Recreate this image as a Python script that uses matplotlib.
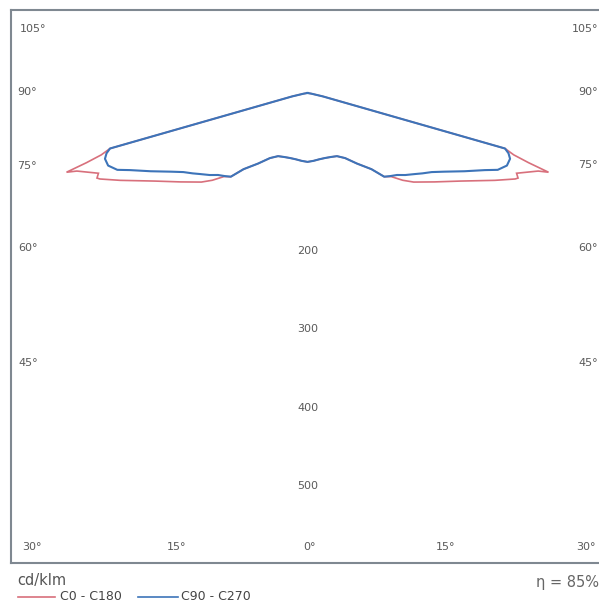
import matplotlib
matplotlib.use("Agg")
import matplotlib.pyplot as plt
import numpy as np
from matplotlib.lines import Line2D

# Photometric data (cd/klm), gamma measured from nadir.
# Distribution is symmetric about nadir, so one half per C-plane pair.
gamma_c0 = [0, 5, 10, 15, 20, 25, 30, 35, 40, 42.5, 45, 47.5, 50, 55, 60, 65,
            67.5, 68, 69, 71.3, 71.8, 72.5, 73.3, 74.3, 77.5, 80, 90]
int_c0 = [88, 87, 86, 86, 87, 89, 96, 110, 127, 145, 151, 165, 177, 198, 225, 264,
          287, 290, 286, 311, 324, 296, 275, 262, 20, 5, 0]

gamma_c90 = [0, 5, 10, 15, 20, 25, 30, 35, 40, 42.5, 45, 47.5, 50, 53, 55, 57.5,
             60, 63.5, 66.5, 68, 70, 72, 73.3, 74.3, 77.5, 80, 90]
int_c90 = [88, 87, 86, 86, 87, 89, 96, 110, 127, 145, 150, 155, 163, 172, 179, 188,
           201, 224, 247, 262, 271, 272, 268, 262, 20, 5, 0]

radial_ticks = [200, 300, 400, 500]
series_labels = ["C0 - C180", "C90 - C270"]
efficiency = "η = 85%"
unit_label = "cd/klm"

RED = "#d8707c"
BLUE = "#3d74b9"
FRAME = "#7f8891"
TXT = "#5a5a5a"

W, H = 599, 606


def polar_xy(gamma, intensity):
    g = np.deg2rad(np.asarray(gamma, float))
    r = np.asarray(intensity, float)
    # left half (C180 / C270) then right half (C0 / C90)
    g_full = np.concatenate([-g[::-1], g[1:]])
    r_full = np.concatenate([r[::-1], r[1:]])
    return r_full * np.sin(g_full), -r_full * np.cos(g_full)


def ftext(px, py, s, **kw):
    # place text using reference-image pixel positions
    fig.text(px / W, 1 - py / H, s, **kw)


fig = plt.figure(figsize=(W / 100, H / 100), dpi=100)
ax = fig.add_axes([11 / W, 43 / H, 587 / W, 553 / H])

x0, y0 = polar_xy(gamma_c0, int_c0)
x90, y90 = polar_xy(gamma_c90, int_c90)
ax.plot(x0, y0, color=RED, lw=1.2, solid_joinstyle="miter")
ax.plot(x90, y90, color=BLUE, lw=1.5)

ax.set_xlim(-378.7, 371)
ax.set_ylim(-600.3, 106)
ax.set_xticks([])
ax.set_yticks([])
for side in ["left", "top", "bottom"]:
    ax.spines[side].set_color(FRAME)
    ax.spines[side].set_linewidth(1.5)
ax.spines["right"].set_visible(False)

for r in radial_ticks:
    ax.text(0, -r - 2, str(r), ha="center", va="center", fontsize=8, color=TXT)

# angle labels around the frame
left_labels = [("105°", 20, 29), ("90°", 17, 92), ("75°", 17, 166),
               ("60°", 18, 248), ("45°", 18, 363)]
for s, px, py in left_labels:
    ftext(px, py, s, ha="left", va="center", fontsize=8, color=TXT)
right_labels = [("105°", 29), ("90°", 92), ("75°", 165), ("60°", 248), ("45°", 363)]
for s, py in right_labels:
    ftext(598, py, s, ha="right", va="center", fontsize=8, color=TXT)
bottom_labels = [("30°", 32), ("15°", 177), ("0°", 310), ("15°", 446), ("30°", 586)]
for s, px in bottom_labels:
    ftext(px, 547, s, ha="center", va="center", fontsize=8, color=TXT)

# footer
ftext(17, 581, unit_label, ha="left", va="center", fontsize=10.5, color="#555555")
ftext(599, 582, efficiency, ha="right", va="center", fontsize=10.5, color="#666666")

fig.add_artist(Line2D([18 / W, 55 / W], [1 - 597 / H] * 2, color=RED, lw=1.2))
ftext(60, 597, series_labels[0], ha="left", va="center", fontsize=9, color="#444444")
fig.add_artist(Line2D([138 / W, 178 / W], [1 - 597 / H] * 2, color=BLUE, lw=1.2))
ftext(181, 597, series_labels[1], ha="left", va="center", fontsize=9, color="#444444")

fig.savefig("out.png", dpi=100)
